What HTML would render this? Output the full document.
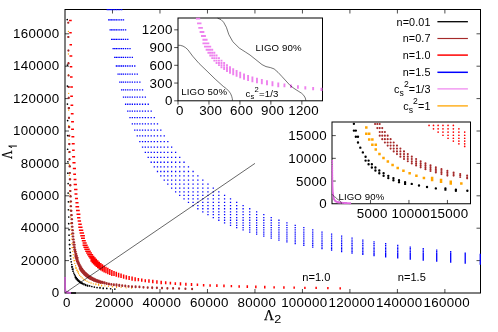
<!DOCTYPE html>
<html>
<head>
<meta charset="utf-8">
<title>Lambda1 vs Lambda2</title>
<style>
html,body{margin:0;padding:0;background:#ffffff;}
body{width:498px;height:332px;overflow:hidden;font-family:"Liberation Sans",sans-serif;}
svg{display:block;will-change:transform;transform:translateZ(0);}
</style>
</head>
<body>
<svg width="498" height="332" viewBox="0 0 498 332">
<rect x="0" y="0" width="498" height="332" fill="#ffffff"/>
<g id="main-axes" stroke="#000" fill="none">
<rect x="65" y="9.5" width="415.5" height="283.5" stroke-width="1"/>
<path d="M112.49 293v-4M112.49 9.5v4M65 260.6h4M480.5 260.6h-4M159.97 293v-4M159.97 9.5v4M65 228.2h4M480.5 228.2h-4M207.46 293v-4M207.46 9.5v4M65 195.8h4M480.5 195.8h-4M254.94 293v-4M254.94 9.5v4M65 163.4h4M480.5 163.4h-4M302.43 293v-4M302.43 9.5v4M65 131h4M480.5 131h-4M349.91 293v-4M349.91 9.5v4M65 98.6h4M480.5 98.6h-4M397.4 293v-4M397.4 9.5v4M65 66.2h4M480.5 66.2h-4M444.89 293v-4M444.89 9.5v4M65 33.8h4M480.5 33.8h-4" stroke-width="0.7"/>
</g>
<g id="main-data">
<path d="M107.31 9.66h0M108.7 19.93h0M108.7 9.66h0M110.14 29.84h0M110.14 19.93h0M110.14 9.66h0M111.63 39.38h0M111.63 29.84h0M111.63 19.93h0M111.63 9.66h0M113.16 48.57h0M113.16 39.38h0M113.16 29.84h0M113.16 19.93h0M113.16 9.66h0M114.75 57.43h0M114.75 48.57h0M114.75 39.38h0M114.75 29.84h0M114.75 19.93h0M114.75 9.66h0M116.39 65.98h0M116.39 57.43h0M116.39 48.57h0M116.39 39.38h0M116.39 29.84h0M116.39 19.93h0M116.39 9.66h0M118.08 74.21h0M118.08 65.98h0M118.08 57.43h0M118.08 48.57h0M118.08 39.38h0M118.08 29.84h0M118.08 19.93h0M118.08 9.66h0M119.83 82.14h0M119.83 74.21h0M119.83 65.98h0M119.83 57.43h0M119.83 48.57h0M119.83 39.38h0M119.83 29.84h0M119.83 19.93h0M119.83 9.66h0M121.63 89.78h0M121.63 82.14h0M121.63 74.21h0M121.63 65.98h0M121.63 57.43h0M121.63 48.57h0M121.63 39.38h0M121.63 29.84h0M121.63 19.93h0M121.63 9.66h0M123.5 97.15h0M123.5 89.78h0M123.5 82.14h0M123.5 74.21h0M123.5 65.98h0M123.5 57.43h0M123.5 48.57h0M123.5 39.38h0M123.5 29.84h0M123.5 19.93h0M125.6 104.25h0M125.6 97.15h0M125.6 89.78h0M125.6 82.14h0M125.6 74.21h0M125.6 65.98h0M125.6 57.43h0M125.6 48.57h0M125.6 39.38h0M125.6 29.84h0M127.77 111.1h0M127.77 104.25h0M127.77 97.15h0M127.77 89.78h0M127.77 82.14h0M127.77 74.21h0M127.77 65.98h0M127.77 57.43h0M127.77 48.57h0M127.77 39.38h0M130.02 117.65h0M130.02 111.1h0M130.02 104.25h0M130.02 97.15h0M130.02 89.78h0M130.02 82.14h0M130.02 74.21h0M130.02 65.98h0M130.02 57.43h0M130.02 48.57h0M132.35 123.96h0M132.35 117.65h0M132.35 111.1h0M132.35 104.25h0M132.35 97.15h0M132.35 89.78h0M132.35 82.14h0M132.35 74.21h0M132.35 65.98h0M132.35 57.43h0M134.77 130.05h0M134.77 123.96h0M134.77 117.65h0M134.77 111.1h0M134.77 104.25h0M134.77 97.15h0M134.77 89.78h0M134.77 82.14h0M134.77 74.21h0M134.77 65.98h0M137.27 135.92h0M137.27 130.05h0M137.27 123.96h0M137.27 117.65h0M137.27 111.1h0M137.27 104.25h0M137.27 97.15h0M137.27 89.78h0M137.27 82.14h0M137.27 74.21h0M139.86 141.58h0M139.86 135.92h0M139.86 130.05h0M139.86 123.96h0M139.86 117.65h0M139.86 111.1h0M139.86 104.25h0M139.86 97.15h0M139.86 89.78h0M139.86 82.14h0M142.55 147.03h0M142.55 141.58h0M142.55 135.92h0M142.55 130.05h0M142.55 123.96h0M142.55 117.65h0M142.55 111.1h0M142.55 104.25h0M142.55 97.15h0M142.55 89.78h0M145.33 152.29h0M145.33 147.03h0M145.33 141.58h0M145.33 135.92h0M145.33 130.05h0M145.33 123.96h0M145.33 117.65h0M145.33 111.1h0M145.33 104.25h0M145.33 97.15h0M148.21 157.36h0M148.21 152.29h0M148.21 147.03h0M148.21 141.58h0M148.21 135.92h0M148.21 130.05h0M148.21 123.96h0M148.21 117.65h0M148.21 111.1h0M148.21 104.25h0M151.19 162.24h0M151.19 157.36h0M151.19 152.29h0M151.19 147.03h0M151.19 141.58h0M151.19 135.92h0M151.19 130.05h0M151.19 123.96h0M151.19 117.65h0M151.19 111.1h0M154.29 166.94h0M154.29 162.24h0M154.29 157.36h0M154.29 152.29h0M154.29 147.03h0M154.29 141.58h0M154.29 135.92h0M154.29 130.05h0M154.29 123.96h0M154.29 117.65h0M157.49 171.48h0M157.49 166.94h0M157.49 162.24h0M157.49 157.36h0M157.49 152.29h0M157.49 147.03h0M157.49 141.58h0M157.49 135.92h0M157.49 130.05h0M157.49 123.96h0M160.8 175.85h0M160.8 171.48h0M160.8 166.94h0M160.8 162.24h0M160.8 157.36h0M160.8 152.29h0M160.8 147.03h0M160.8 141.58h0M160.8 135.92h0M160.8 130.05h0M164.24 180.06h0M164.24 175.85h0M164.24 171.48h0M164.24 166.94h0M164.24 162.24h0M164.24 157.36h0M164.24 152.29h0M164.24 147.03h0M164.24 141.58h0M164.24 135.92h0M167.8 184.13h0M167.8 180.06h0M167.8 175.85h0M167.8 171.48h0M167.8 166.94h0M167.8 162.24h0M167.8 157.36h0M167.8 152.29h0M167.8 147.03h0M167.8 141.58h0M171.64 188.04h0M171.64 184.13h0M171.64 180.06h0M171.64 175.85h0M171.64 171.48h0M171.64 166.94h0M171.64 162.24h0M171.64 157.36h0M171.64 152.29h0M171.64 147.03h0M175.62 191.82h0M175.62 188.04h0M175.62 184.13h0M175.62 180.06h0M175.62 175.85h0M175.62 171.48h0M175.62 166.94h0M175.62 162.24h0M175.62 157.36h0M175.62 152.29h0M179.74 195.46h0M179.74 191.82h0M179.74 188.04h0M179.74 184.13h0M179.74 180.06h0M179.74 175.85h0M179.74 171.48h0M179.74 166.94h0M179.74 162.24h0M179.74 157.36h0M184.03 198.97h0M184.03 195.46h0M184.03 191.82h0M184.03 188.04h0M184.03 184.13h0M184.03 180.06h0M184.03 175.85h0M184.03 171.48h0M184.03 166.94h0M184.03 162.24h0M188.47 202.35h0M188.47 198.97h0M188.47 195.46h0M188.47 191.82h0M188.47 188.04h0M188.47 184.13h0M188.47 180.06h0M188.47 175.85h0M188.47 171.48h0M188.47 166.94h0M193.08 205.61h0M193.08 202.35h0M193.08 198.97h0M193.08 195.46h0M193.08 191.82h0M193.08 188.04h0M193.08 184.13h0M193.08 180.06h0M193.08 175.85h0M193.08 171.48h0M197.85 208.76h0M197.85 205.61h0M197.85 202.35h0M197.85 198.97h0M197.85 195.46h0M197.85 191.82h0M197.85 188.04h0M197.85 184.13h0M197.85 180.06h0M197.85 175.85h0M202.81 211.79h0M202.81 208.76h0M202.81 205.61h0M202.81 202.35h0M202.81 198.97h0M202.81 195.46h0M202.81 191.82h0M202.81 188.04h0M202.81 184.13h0M202.81 180.06h0M207.96 214.71h0M207.96 211.79h0M207.96 208.76h0M207.96 205.61h0M207.96 202.35h0M207.96 198.97h0M207.96 195.46h0M207.96 191.82h0M207.96 188.04h0M207.96 184.13h0M213.29 217.53h0M213.29 214.71h0M213.29 211.79h0M213.29 208.76h0M213.29 205.61h0M213.29 202.35h0M213.29 198.97h0M213.29 195.46h0M213.29 191.82h0M213.29 188.04h0M218.83 220.24h0M218.83 217.53h0M218.83 214.71h0M218.83 211.79h0M218.83 208.76h0M218.83 205.61h0M218.83 202.35h0M218.83 198.97h0M218.83 195.46h0M218.83 191.82h0M224.57 222.86h0M224.57 220.24h0M224.57 217.53h0M224.57 214.71h0M224.57 211.79h0M224.57 208.76h0M224.57 205.61h0M224.57 202.35h0M224.57 198.97h0M224.57 195.46h0M230.52 225.29h0M230.52 222.86h0M230.52 220.24h0M230.52 217.53h0M230.52 214.71h0M230.52 211.79h0M230.52 208.76h0M230.52 205.61h0M230.52 202.35h0M230.52 198.97h0M236.7 227.63h0M236.7 225.29h0M236.7 222.86h0M236.7 220.24h0M236.7 217.53h0M236.7 214.71h0M236.7 211.79h0M236.7 208.76h0M236.7 205.61h0M236.7 202.35h0M243.11 229.89h0M243.11 227.63h0M243.11 225.29h0M243.11 222.86h0M243.11 220.24h0M243.11 217.53h0M243.11 214.71h0M243.11 211.79h0M243.11 208.76h0M243.11 205.61h0M249.75 232.08h0M249.75 229.89h0M249.75 227.63h0M249.75 225.29h0M249.75 222.86h0M249.75 220.24h0M249.75 217.53h0M249.75 214.71h0M249.75 211.79h0M249.75 208.76h0M256.65 234.19h0M256.65 232.08h0M256.65 229.89h0M256.65 227.63h0M256.65 225.29h0M256.65 222.86h0M256.65 220.24h0M256.65 217.53h0M256.65 214.71h0M256.65 211.79h0M263.8 236.22h0M263.8 234.19h0M263.8 232.08h0M263.8 229.89h0M263.8 227.63h0M263.8 225.29h0M263.8 222.86h0M263.8 220.24h0M263.8 217.53h0M263.8 214.71h0M271.23 238.19h0M271.23 236.22h0M271.23 234.19h0M271.23 232.08h0M271.23 229.89h0M271.23 227.63h0M271.23 225.29h0M271.23 222.86h0M271.23 220.24h0M271.23 217.53h0M278.93 240.09h0M278.93 238.19h0M278.93 236.22h0M278.93 234.19h0M278.93 232.08h0M278.93 229.89h0M278.93 227.63h0M278.93 225.29h0M278.93 222.86h0M278.93 220.24h0M286.92 241.92h0M286.92 240.09h0M286.92 238.19h0M286.92 236.22h0M286.92 234.19h0M286.92 232.08h0M286.92 229.89h0M286.92 227.63h0M286.92 225.29h0M286.92 222.86h0M295.22 243.69h0M295.22 241.92h0M295.22 240.09h0M295.22 238.19h0M295.22 236.22h0M295.22 234.19h0M295.22 232.08h0M295.22 229.89h0M295.22 227.63h0M295.22 225.29h0M303.82 245.4h0M303.82 243.69h0M303.82 241.92h0M303.82 240.09h0M303.82 238.19h0M303.82 236.22h0M303.82 234.19h0M303.82 232.08h0M303.82 229.89h0M303.82 227.63h0M312.74 247.04h0M312.74 245.4h0M312.74 243.69h0M312.74 241.92h0M312.74 240.09h0M312.74 238.19h0M312.74 236.22h0M312.74 234.19h0M312.74 232.08h0M312.74 229.89h0M322 248.63h0M322 247.04h0M322 245.4h0M322 243.69h0M322 241.92h0M322 240.09h0M322 238.19h0M322 236.22h0M322 234.19h0M322 232.08h0M331.6 250.17h0M331.6 248.63h0M331.6 247.04h0M331.6 245.4h0M331.6 243.69h0M331.6 241.92h0M331.6 240.09h0M331.6 238.19h0M331.6 236.22h0M331.6 234.19h0M341.63 251.65h0M341.63 250.17h0M341.63 248.63h0M341.63 247.04h0M341.63 245.4h0M341.63 243.69h0M341.63 241.92h0M341.63 240.09h0M341.63 238.19h0M341.63 236.22h0M352.04 253.08h0M352.04 251.65h0M352.04 250.17h0M352.04 248.63h0M352.04 247.04h0M352.04 245.4h0M352.04 243.69h0M352.04 241.92h0M352.04 240.09h0M352.04 238.19h0M362.83 254.36h0M362.83 253.08h0M362.83 251.65h0M362.83 250.17h0M362.83 248.63h0M362.83 247.04h0M362.83 245.4h0M362.83 243.69h0M362.83 241.92h0M362.83 240.09h0M374.04 255.59h0M374.04 254.36h0M374.04 253.08h0M374.04 251.65h0M374.04 250.17h0M374.04 248.63h0M374.04 247.04h0M374.04 245.4h0M374.04 243.69h0M374.04 241.92h0M385.67 256.78h0M385.67 255.59h0M385.67 254.36h0M385.67 253.08h0M385.67 251.65h0M385.67 250.17h0M385.67 248.63h0M385.67 247.04h0M385.67 245.4h0M385.67 243.69h0M397.73 257.94h0M397.73 256.78h0M397.73 255.59h0M397.73 254.36h0M397.73 253.08h0M397.73 251.65h0M397.73 250.17h0M397.73 248.63h0M397.73 247.04h0M397.73 245.4h0M410.25 259.06h0M410.25 257.94h0M410.25 256.78h0M410.25 255.59h0M410.25 254.36h0M410.25 253.08h0M410.25 251.65h0M410.25 250.17h0M410.25 248.63h0M410.25 247.04h0M423.24 260.14h0M423.24 259.06h0M423.24 257.94h0M423.24 256.78h0M423.24 255.59h0M423.24 254.36h0M423.24 253.08h0M423.24 251.65h0M423.24 250.17h0M423.24 248.63h0M436.71 261.19h0M436.71 260.14h0M436.71 259.06h0M436.71 257.94h0M436.71 256.78h0M436.71 255.59h0M436.71 254.36h0M436.71 253.08h0M436.71 251.65h0M436.71 250.17h0M450.7 262.2h0M450.7 261.19h0M450.7 260.14h0M450.7 259.06h0M450.7 257.94h0M450.7 256.78h0M450.7 255.59h0M450.7 254.36h0M450.7 253.08h0M450.7 251.65h0M465.21 263.18h0M465.21 262.2h0M465.21 261.19h0M465.21 260.14h0M465.21 259.06h0M465.21 257.94h0M465.21 256.78h0M465.21 255.59h0M465.21 254.36h0M465.21 253.08h0M480.26 264.13h0M480.26 263.18h0M480.26 262.2h0M480.26 261.19h0M480.26 260.14h0M480.26 259.06h0M480.26 257.94h0M480.26 256.78h0M480.26 255.59h0M480.26 254.36h0" stroke="#0000ff" stroke-width="1.3" stroke-linecap="square" fill="none"/>
<path d="M69.79 20.4h0M70.01 32.81h0M70.01 20.4h0M70.24 55.96h0M70.24 44.66h0M70.24 32.81h0M70.24 20.4h0M70.48 66.76h0M70.48 55.96h0M70.48 44.66h0M70.48 32.81h0M70.48 20.4h0M70.73 77.06h0M70.73 66.76h0M70.73 55.96h0M70.73 44.66h0M70.73 32.81h0M70.73 20.4h0M70.99 96.27h0M70.99 86.89h0M70.99 77.06h0M70.99 66.76h0M70.99 55.96h0M70.99 44.66h0M70.99 32.81h0M70.99 20.4h0M71.27 105.23h0M71.27 96.27h0M71.27 86.89h0M71.27 77.06h0M71.27 66.76h0M71.27 55.96h0M71.27 44.66h0M71.55 113.63h0M71.55 105.23h0M71.55 96.27h0M71.55 86.89h0M71.55 77.06h0M71.55 66.76h0M71.55 55.96h0M71.85 129.32h0M71.85 121.65h0M71.85 113.63h0M71.85 105.23h0M71.85 96.27h0M71.85 86.89h0M71.85 77.06h0M72.17 136.64h0M72.17 129.32h0M72.17 121.65h0M72.17 113.63h0M72.17 105.23h0M72.17 96.27h0M72.17 86.89h0M72.49 143.63h0M72.49 136.64h0M72.49 129.32h0M72.49 121.65h0M72.49 113.63h0M72.49 105.23h0M72.84 156.7h0M72.84 150.31h0M72.84 143.63h0M72.84 136.64h0M72.84 129.32h0M72.84 121.65h0M72.84 113.63h0M73.19 162.79h0M73.19 156.7h0M73.19 150.31h0M73.19 143.63h0M73.19 136.64h0M73.19 129.32h0M73.19 121.65h0M73.57 168.62h0M73.57 162.79h0M73.57 156.7h0M73.57 150.31h0M73.57 143.63h0M73.57 136.64h0M73.96 174.17h0M73.96 168.62h0M73.96 162.79h0M73.96 156.7h0M73.96 150.31h0M73.96 143.63h0M74.37 184.54h0M74.37 179.47h0M74.37 174.17h0M74.37 168.62h0M74.37 162.79h0M74.37 156.7h0M74.8 189.38h0M74.8 184.54h0M74.8 179.47h0M74.8 174.17h0M74.8 168.62h0M74.8 162.79h0M75.24 194.01h0M75.24 189.38h0M75.24 184.54h0M75.24 179.47h0M75.24 174.17h0M75.24 168.62h0M75.71 198.42h0M75.71 194.01h0M75.71 189.38h0M75.71 184.54h0M75.71 179.47h0M76.2 206.68h0M76.2 202.65h0M76.2 198.42h0M76.2 194.01h0M76.2 189.38h0M76.2 184.54h0M76.71 210.53h0M76.71 206.68h0M76.71 202.65h0M76.71 198.42h0M76.71 194.01h0M76.71 189.38h0M77.25 214.21h0M77.25 210.53h0M77.25 206.68h0M77.25 202.65h0M77.25 198.42h0M77.81 217.73h0M77.81 214.21h0M77.81 210.53h0M77.81 206.68h0M77.81 202.65h0M78.4 221.09h0M78.4 217.73h0M78.4 214.21h0M78.4 210.53h0M78.4 206.68h0M79.01 227.37h0M79.01 224.3h0M79.01 221.09h0M79.01 217.73h0M79.01 214.21h0M79.01 210.53h0M79.65 230.3h0M79.65 227.37h0M79.65 224.3h0M79.65 221.09h0M79.65 217.73h0M79.65 214.21h0M80.32 233.09h0M80.32 230.3h0M80.32 227.37h0M80.32 224.3h0M80.32 221.09h0M81.02 235.72h0M81.02 233.09h0M81.02 230.3h0M81.02 227.37h0M81.02 224.3h0M81.75 238.24h0M81.75 235.72h0M81.75 233.09h0M81.75 230.3h0M81.75 227.37h0M82.52 240.64h0M82.52 238.24h0M82.52 235.72h0M82.52 233.09h0M82.52 230.3h0M83.32 245.13h0M83.32 242.94h0M83.32 240.64h0M83.32 238.24h0M83.32 235.72h0M83.32 233.09h0M84.15 247.23h0M84.15 245.13h0M84.15 242.94h0M84.15 240.64h0M84.15 238.24h0M84.15 235.72h0M85.03 249.24h0M85.03 247.23h0M85.03 245.13h0M85.03 242.94h0M85.03 240.64h0M85.94 251.16h0M85.94 249.24h0M85.94 247.23h0M85.94 245.13h0M85.94 242.94h0M86.9 253h0M86.9 251.16h0M86.9 249.24h0M86.9 247.23h0M86.9 245.13h0M87.9 254.75h0M87.9 253h0M87.9 251.16h0M87.9 249.24h0M87.9 247.23h0M88.95 256.43h0M88.95 254.75h0M88.95 253h0M88.95 251.16h0M88.95 249.24h0M90.04 258.03h0M90.04 256.43h0M90.04 254.75h0M90.04 253h0M90.04 251.16h0M91.19 261.04h0M91.19 259.57h0M91.19 258.03h0M91.19 256.43h0M91.19 254.75h0M91.19 253h0M92.39 262.44h0M92.39 261.04h0M92.39 259.57h0M92.39 258.03h0M92.39 256.43h0M92.39 254.75h0M93.64 263.78h0M93.64 262.44h0M93.64 261.04h0M93.64 259.57h0M93.64 258.03h0M93.64 256.43h0M94.95 265.06h0M94.95 263.78h0M94.95 262.44h0M94.95 261.04h0M94.95 259.57h0M94.95 258.03h0M96.32 266.28h0M96.32 265.06h0M96.32 263.78h0M96.32 262.44h0M96.32 261.04h0M96.32 259.57h0M97.75 267.45h0M97.75 266.28h0M97.75 265.06h0M97.75 263.78h0M97.75 262.44h0M97.75 261.04h0M99.24 268.57h0M99.24 267.45h0M99.24 266.28h0M99.24 265.06h0M99.24 263.78h0M99.24 262.44h0M100.81 269.64h0M100.81 268.57h0M100.81 267.45h0M100.81 266.28h0M100.81 265.06h0M100.81 263.78h0M102.45 270.66h0M102.45 269.64h0M102.45 268.57h0M102.45 267.45h0M102.45 266.28h0M102.45 265.06h0M104.16 271.63h0M104.16 270.66h0M104.16 269.64h0M104.16 268.57h0M104.16 267.45h0M104.16 266.28h0M105.95 272.57h0M105.95 271.63h0M105.95 270.66h0M105.95 269.64h0M105.95 268.57h0M105.95 267.45h0M107.83 273.46h0M107.83 272.57h0M107.83 271.63h0M107.83 270.66h0M107.83 269.64h0M107.83 268.57h0M109.79 274.31h0M109.79 273.46h0M109.79 272.57h0M109.79 271.63h0M109.79 270.66h0M109.79 269.64h0M111.85 275.13h0M111.85 274.31h0M111.85 273.46h0M111.85 272.57h0M111.85 271.63h0M111.85 270.66h0M114 275.13h0M114 274.31h0M114 273.46h0M114 272.57h0M114 271.63h0M116.25 275.91h0M116.25 275.13h0M116.25 274.31h0M116.25 273.46h0M116.25 272.57h0M118.6 276.66h0M118.6 275.91h0M118.6 275.13h0M118.6 274.31h0M118.6 273.46h0M121.06 277.37h0M121.06 276.66h0M121.06 275.91h0M121.06 275.13h0M121.06 274.31h0M123.63 278.06h0M123.63 277.37h0M123.63 276.66h0M123.63 275.91h0M123.63 275.13h0M126.32 278.71h0M126.32 278.06h0M126.32 277.37h0M126.32 276.66h0M126.32 275.91h0M129.13 279.33h0M129.13 278.71h0M129.13 278.06h0M129.13 277.37h0M129.13 276.66h0M132.08 279.93h0M132.08 279.33h0M132.08 278.71h0M132.08 278.06h0M132.08 277.37h0M135.15 280.5h0M135.15 279.93h0M135.15 279.33h0M135.15 278.71h0M135.15 278.06h0M138.37 280.5h0M138.37 279.93h0M138.37 279.33h0M138.37 278.71h0M141.74 281.05h0M141.74 280.5h0M141.74 279.93h0M141.74 279.33h0M145.26 281.57h0M145.26 281.05h0M145.26 280.5h0M145.26 279.93h0M148.95 282.07h0M148.95 281.57h0M148.95 281.05h0M148.95 280.5h0M148.95 279.93h0M152.8 282.55h0M152.8 282.07h0M152.8 281.57h0M152.8 281.05h0M152.8 280.5h0M156.9 283.01h0M156.9 282.55h0M156.9 282.07h0M156.9 281.57h0M156.9 281.05h0M161.19 283.44h0M161.19 283.01h0M161.19 282.55h0M161.19 282.07h0M161.19 281.57h0M165.69 283.44h0M165.69 283.01h0M165.69 282.55h0M165.69 282.07h0M170.39 283.86h0M170.39 283.44h0M170.39 283.01h0M170.39 282.55h0M175.32 284.26h0M175.32 283.86h0M175.32 283.44h0M175.32 283.01h0M180.47 284.64h0M180.47 284.26h0M180.47 283.86h0M180.47 283.44h0M180.47 283.01h0M185.87 285.01h0M185.87 284.64h0M185.87 284.26h0M185.87 283.86h0M185.87 283.44h0M191.51 285.36h0M191.51 285.01h0M191.51 284.64h0M191.51 284.26h0M191.51 283.86h0M197.42 285.36h0M197.42 285.01h0M197.42 284.64h0M197.42 284.26h0M203.61 285.69h0M203.61 285.36h0M203.61 285.01h0M203.61 284.64h0M210.09 286.01h0M210.09 285.69h0M210.09 285.36h0M210.09 285.01h0M216.87 286.32h0M216.87 286.01h0M216.87 285.69h0M216.87 285.36h0M216.87 285.01h0M223.96 286.61h0M223.96 286.32h0M223.96 286.01h0M223.96 285.69h0M223.96 285.36h0M231.39 286.61h0M231.39 286.32h0M231.39 286.01h0M231.39 285.69h0M239.16 286.89h0M239.16 286.61h0M239.16 286.32h0M239.16 286.01h0M247.3 287.15h0M247.3 286.89h0M247.3 286.61h0M247.3 286.32h0M247.3 286.01h0M255.83 287.41h0M255.83 287.15h0M255.83 286.89h0M255.83 286.61h0M255.83 286.32h0M264.77 287.65h0M264.77 287.41h0M264.77 287.15h0M264.77 286.89h0M264.77 286.61h0M274.12 287.65h0M274.12 287.41h0M274.12 287.15h0M274.12 286.89h0M283.92 287.89h0M283.92 287.65h0M283.92 287.41h0M283.92 287.15h0M283.92 286.89h0M294.17 288.11h0M294.17 287.89h0M294.17 287.65h0M294.17 287.41h0M294.17 287.15h0M304.9 288.32h0M304.9 288.11h0M304.9 287.89h0M304.9 287.65h0M304.9 287.41h0M316.13 288.32h0M316.13 288.11h0M316.13 287.89h0M316.13 287.65h0M316.13 287.41h0M327.89 288.53h0M327.89 288.32h0M327.89 288.11h0M327.89 287.89h0M327.89 287.65h0M340.2 288.72h0M340.2 288.53h0M340.2 288.32h0M340.2 288.11h0M340.2 287.89h0" stroke="#ff0000" stroke-width="1.5" stroke-linecap="square" fill="none"/>
<path d="M68.39 74.59h0M68.39 54.02h0M68.39 31.5h0M68.68 125.58h0M68.68 110.2h0M68.68 93.4h0M68.99 152.58h0M68.99 139.67h0M68.99 125.58h0M69.33 175.22h0M69.33 164.4h0M69.7 194.21h0M69.7 185.13h0M70.09 210.14h0M70.09 202.53h0M70.53 223.5h0M70.53 217.11h0M70.53 210.14h0M70.99 234.3h0M70.99 229.13h0M70.99 223.5h0M71.5 239.1h0M71.5 234.3h0M72.05 247.56h0M72.05 243.51h0M72.65 251.28h0M72.65 247.56h0M73.3 257.83h0M73.3 254.69h0M74 260.7h0M74 257.83h0M74.76 263.35h0M74.76 260.7h0M75.58 268h0M75.58 265.77h0M76.48 270.04h0M76.48 268h0M77.45 271.92h0M77.45 270.04h0M78.51 273.65h0M78.51 271.92h0M79.65 275.23h0M80.89 276.65h0M82.23 277.96h0M83.69 279.17h0M85.27 280.25h0M87.04 281.24h0M88.96 282.16h0M91.04 283h0M93.36 283.78h0M95.89 284.5h0M95.89 283.78h0M98.64 285.17h0M98.64 284.5h0M101.64 285.78h0M101.64 285.17h0M104.91 285.78h0M108.46 286.34h0M112.33 286.86h0M112.33 286.34h0M116.55 287.34h0M116.55 286.86h0M121.15 287.34h0M126.15 287.78h0M131.6 288.19h0M131.6 287.78h0" stroke="#ffa500" stroke-width="1.3" stroke-linecap="round" fill="none"/>
<path d="M68.15 37.07h0M68.15 22.8h0M68.32 63.4h0M68.32 50.59h0M68.32 37.07h0M68.32 22.8h0M68.49 87.02h0M68.49 75.53h0M68.49 63.4h0M68.49 50.59h0M68.49 37.07h0M68.67 108.17h0M68.67 97.9h0M68.67 87.02h0M68.67 75.53h0M68.67 63.4h0M68.87 127.1h0M68.87 117.89h0M68.87 108.17h0M68.87 97.9h0M68.87 87.02h0M69.07 144.1h0M69.07 135.83h0M69.07 127.1h0M69.07 117.89h0M69.07 108.17h0M69.29 159.36h0M69.29 151.94h0M69.29 144.1h0M69.29 135.83h0M69.29 127.1h0M69.51 166.39h0M69.51 159.36h0M69.51 151.94h0M69.51 144.1h0M69.75 179.36h0M69.75 173.05h0M69.75 166.39h0M69.75 159.36h0M69.75 151.94h0M70 191.01h0M70 185.34h0M70 179.36h0M70 173.05h0M70 166.39h0M70.27 196.38h0M70.27 191.01h0M70.27 185.34h0M70.27 179.36h0M70.54 206.28h0M70.54 201.46h0M70.54 196.38h0M70.54 191.01h0M70.54 185.34h0M70.84 210.84h0M70.84 206.28h0M70.84 201.46h0M70.84 196.38h0M71.14 215.16h0M71.14 210.84h0M71.14 206.28h0M71.14 201.46h0M71.47 223.14h0M71.47 219.26h0M71.47 215.16h0M71.47 210.84h0M71.81 226.81h0M71.81 223.14h0M71.81 219.26h0M71.81 215.16h0M72.17 233.51h0M72.17 230.3h0M72.17 226.81h0M72.17 223.14h0M72.17 219.26h0M72.55 236.57h0M72.55 233.51h0M72.55 230.3h0M72.55 226.81h0M72.95 239.46h0M72.95 236.57h0M72.95 233.51h0M72.95 230.3h0M73.36 244.82h0M73.36 242.21h0M73.36 239.46h0M73.36 236.57h0M73.36 233.51h0M73.81 247.29h0M73.81 244.82h0M73.81 242.21h0M73.81 239.46h0M74.27 249.64h0M74.27 247.29h0M74.27 244.82h0M74.27 242.21h0M74.76 251.86h0M74.76 249.64h0M74.76 247.29h0M74.76 244.82h0M75.27 255.98h0M75.27 253.97h0M75.27 251.86h0M75.27 249.64h0M75.82 257.88h0M75.82 255.98h0M75.82 253.97h0M75.82 251.86h0M76.39 259.68h0M76.39 257.88h0M76.39 255.98h0M76.39 253.97h0M76.99 261.39h0M76.99 259.68h0M76.99 257.88h0M76.99 255.98h0M77.62 263.01h0M77.62 261.39h0M77.62 259.68h0M77.62 257.88h0M78.29 264.55h0M78.29 263.01h0M78.29 261.39h0M78.99 266.01h0M78.99 264.55h0M78.99 263.01h0M79.73 268.71h0M79.73 267.39h0M79.73 266.01h0M79.73 264.55h0M80.5 269.95h0M80.5 268.71h0M80.5 267.39h0M80.5 266.01h0M81.32 271.14h0M81.32 269.95h0M81.32 268.71h0M81.32 267.39h0M82.18 272.26h0M82.18 271.14h0M82.18 269.95h0M82.18 268.71h0M83.09 273.32h0M83.09 272.26h0M83.09 271.14h0M83.09 269.95h0M84.04 274.33h0M84.04 273.32h0M84.04 272.26h0M84.04 271.14h0M85.05 275.29h0M85.05 274.33h0M85.05 273.32h0M85.05 272.26h0M86.1 276.2h0M86.1 275.29h0M86.1 274.33h0M86.1 273.32h0M87.22 277.04h0M87.22 276.2h0M87.22 275.29h0M87.22 274.33h0M88.39 277.84h0M88.39 277.04h0M88.39 276.2h0M88.39 275.29h0M89.62 278.6h0M89.62 277.84h0M89.62 277.04h0M89.62 276.2h0M90.96 279.32h0M90.96 278.6h0M90.96 277.84h0M90.96 277.04h0M92.36 280.01h0M92.36 279.32h0M92.36 278.6h0M92.36 277.84h0M93.84 280.66h0M93.84 280.01h0M93.84 279.32h0M93.84 278.6h0M95.4 281.28h0M95.4 280.66h0M95.4 280.01h0M95.4 279.32h0M97.04 281.86h0M97.04 281.28h0M97.04 280.66h0M97.04 280.01h0M98.78 282.42h0M98.78 281.86h0M98.78 281.28h0M98.78 280.66h0M100.6 282.95h0M100.6 282.42h0M100.6 281.86h0M100.6 281.28h0M102.53 282.95h0M102.53 282.42h0M102.53 281.86h0M104.56 283.46h0M104.56 282.95h0M104.56 282.42h0M106.7 283.93h0M106.7 283.46h0M106.7 282.95h0M108.95 284.39h0M108.95 283.93h0M108.95 283.46h0M111.33 284.82h0M111.33 284.39h0M111.33 283.93h0M113.84 285.23h0M113.84 284.82h0M113.84 284.39h0M116.48 285.62h0M116.48 285.23h0M116.48 284.82h0M116.48 284.39h0M119.26 285.99h0M119.26 285.62h0M119.26 285.23h0M119.26 284.82h0M122.2 285.99h0M122.2 285.62h0M122.2 285.23h0M125.29 286.34h0M125.29 285.99h0M125.29 285.62h0M128.55 286.67h0M128.55 286.34h0M128.55 285.99h0M131.99 286.99h0M131.99 286.67h0M131.99 286.34h0M135.61 287.29h0M135.61 286.99h0M135.61 286.67h0M135.61 286.34h0M139.43 287.29h0M139.43 286.99h0M139.43 286.67h0M143.46 287.58h0M143.46 287.29h0M143.46 286.99h0M147.71 287.85h0M147.71 287.58h0M147.71 287.29h0M152.18 288.11h0M152.18 287.85h0M152.18 287.58h0M152.18 287.29h0M156.9 288.11h0M156.9 287.85h0M156.9 287.58h0M162 288.35h0M162 288.11h0M162 287.85h0M167.39 288.59h0M167.39 288.35h0M167.39 288.11h0M173.08 288.59h0M173.08 288.35h0M173.08 288.11h0M179.08 288.81h0M179.08 288.59h0M179.08 288.35h0M185.42 289.02h0M185.42 288.81h0M185.42 288.59h0M192.1 289.22h0M192.1 289.02h0M192.1 288.81h0" stroke="#a52a2a" stroke-width="2.1" stroke-linecap="round" fill="none"/>
<path d="M67.22 19.6h0M67.42 104.1h0M67.42 86.1h0M67.42 65.06h0M67.64 149.24h0M67.64 135.54h0M67.64 120.54h0M67.87 173.17h0M67.87 161.75h0M68.13 193.11h0M68.13 183.59h0M68.41 209.75h0M68.41 201.8h0M68.71 223.63h0M68.71 217.01h0M69.04 235.2h0M69.04 229.68h0M69.41 244.57h0M69.41 240.09h0M69.8 248.66h0M69.8 244.57h0M70.23 255.85h0M70.23 252.41h0M70.69 258.99h0M70.69 255.85h0M71.2 261.87h0M71.76 266.91h0M71.76 264.5h0M72.36 269.12h0M72.36 266.91h0M73.02 271.14h0M73.02 269.12h0M73.73 272.99h0M74.51 274.68h0M75.36 277.61h0M75.36 276.21h0M76.29 278.89h0M76.29 277.61h0M77.3 280.07h0M77.3 278.89h0M78.4 281.15h0M78.4 280.07h0M79.59 282.14h0M79.59 281.15h0M80.92 283.04h0M80.92 282.14h0M82.37 283.86h0M82.37 283.04h0M83.95 284.61h0M83.95 283.86h0M85.67 285.3h0M85.67 284.61h0M87.56 285.93h0M87.56 285.3h0M89.61 285.93h0M91.85 286.51h0M94.33 287.04h0M97.04 287.53h0M100 287.98h0M100 287.53h0M103.23 288.39h0M103.23 287.98h0M106.77 288.39h0M110.63 288.77h0M114.84 289.11h0" stroke="#000000" stroke-width="1.7" stroke-linecap="round" fill="none"/>
<path d="M65.06 277.79h0M65.07 278.67h0M65.07 277.79h0M65.07 279.5h0M65.07 278.67h0M65.07 277.79h0M65.08 280.28h0M65.08 279.5h0M65.08 278.67h0M65.08 277.79h0M65.08 281.02h0M65.08 280.28h0M65.08 279.5h0M65.08 278.67h0M65.08 277.79h0M65.09 281.71h0M65.09 281.02h0M65.09 280.28h0M65.09 279.5h0M65.09 278.67h0M65.09 277.79h0M65.09 282.37h0M65.09 281.71h0M65.09 281.02h0M65.09 280.28h0M65.09 279.5h0M65.09 278.67h0M65.1 282.98h0M65.1 282.37h0M65.1 281.71h0M65.1 281.02h0M65.1 280.28h0M65.1 279.5h0M65.1 283.56h0M65.1 282.98h0M65.1 282.37h0M65.1 281.71h0M65.1 281.02h0M65.1 280.28h0M65.11 284.11h0M65.11 283.56h0M65.11 282.98h0M65.11 282.37h0M65.11 281.71h0M65.11 281.02h0M65.12 284.63h0M65.12 284.11h0M65.12 283.56h0M65.12 282.98h0M65.12 282.37h0M65.12 285.11h0M65.12 284.63h0M65.12 284.11h0M65.12 283.56h0M65.12 282.98h0M65.13 285.57h0M65.13 285.11h0M65.13 284.63h0M65.13 284.11h0M65.13 283.56h0M65.14 286h0M65.14 285.57h0M65.14 285.11h0M65.14 284.63h0M65.14 284.11h0M65.15 286.4h0M65.15 286h0M65.15 285.57h0M65.15 285.11h0M65.15 284.63h0M65.16 286.79h0M65.16 286.4h0M65.16 286h0M65.16 285.57h0M65.16 285.11h0M65.17 287.15h0M65.17 286.79h0M65.17 286.4h0M65.17 286h0M65.17 285.57h0M65.18 287.49h0M65.18 287.15h0M65.18 286.79h0M65.18 286.4h0M65.18 286h0M65.19 287.81h0M65.19 287.49h0M65.19 287.15h0M65.19 286.79h0M65.2 288.11h0M65.2 287.81h0M65.2 287.49h0M65.2 287.15h0M65.21 288.39h0M65.21 288.11h0M65.21 287.81h0M65.21 287.49h0M65.22 288.66h0M65.22 288.39h0M65.22 288.11h0M65.22 287.81h0M65.24 288.91h0M65.24 288.66h0M65.24 288.39h0M65.24 288.11h0M65.25 289.15h0M65.25 288.91h0M65.25 288.66h0M65.25 288.39h0M65.27 289.37h0M65.27 289.15h0M65.27 288.91h0M65.27 288.66h0M65.29 289.58h0M65.29 289.37h0M65.29 289.15h0M65.29 288.91h0M65.3 289.78h0M65.3 289.58h0M65.3 289.37h0M65.3 289.15h0M65.32 289.96h0M65.32 289.78h0M65.32 289.58h0M65.32 289.37h0M65.34 290.14h0M65.34 289.96h0M65.34 289.78h0M65.34 289.58h0M65.36 290.31h0M65.36 290.14h0M65.36 289.96h0M65.36 289.78h0M65.38 290.46h0M65.38 290.31h0M65.38 290.14h0M65.38 289.96h0M65.41 290.61h0M65.41 290.46h0M65.41 290.31h0M65.43 290.75h0M65.43 290.61h0M65.43 290.46h0M65.46 290.88h0M65.46 290.75h0M65.46 290.61h0M65.49 291h0M65.49 290.88h0M65.49 290.75h0M65.52 291.12h0M65.52 291h0M65.52 290.88h0M65.55 291.23h0M65.55 291.12h0M65.55 291h0M65.58 291.43h0M65.58 291.33h0M65.58 291.23h0M65.58 291.12h0M65.62 291.52h0M65.62 291.43h0M65.62 291.33h0M65.62 291.23h0M65.66 291.6h0M65.66 291.52h0M65.66 291.43h0M65.66 291.33h0M65.7 291.68h0M65.7 291.6h0M65.7 291.52h0M65.7 291.43h0M65.74 291.76h0M65.74 291.68h0M65.74 291.6h0M65.74 291.52h0M65.79 291.83h0M65.79 291.76h0M65.79 291.68h0M65.79 291.6h0M65.84 291.9h0M65.84 291.83h0M65.84 291.76h0M65.84 291.68h0M65.89 291.96h0M65.89 291.9h0M65.89 291.83h0M65.89 291.76h0M65.94 292.02h0M65.94 291.96h0M65.94 291.9h0M65.94 291.83h0M66 292.08h0M66 292.02h0M66 291.96h0M66 291.9h0M66.06 292.13h0M66.06 292.08h0M66.06 292.02h0M66.06 291.96h0M66.13 292.18h0M66.13 292.13h0M66.13 292.08h0M66.13 292.02h0M66.2 292.23h0M66.2 292.18h0M66.2 292.13h0M66.2 292.08h0M66.27 292.28h0M66.27 292.23h0M66.27 292.18h0M66.27 292.13h0M66.35 292.32h0M66.35 292.28h0M66.35 292.23h0M66.35 292.18h0M66.43 292.36h0M66.43 292.32h0M66.43 292.28h0M66.43 292.23h0M66.52 292.39h0M66.52 292.36h0M66.52 292.32h0M66.52 292.28h0M66.61 292.43h0M66.61 292.39h0M66.61 292.36h0M66.61 292.32h0M66.71 292.46h0M66.71 292.43h0M66.71 292.39h0M66.71 292.36h0M66.82 292.49h0M66.82 292.46h0M66.82 292.43h0M66.82 292.39h0M66.93 292.52h0M66.93 292.49h0M66.93 292.46h0M66.93 292.43h0M67.05 292.55h0M67.05 292.52h0M67.05 292.49h0M67.05 292.46h0M67.17 292.58h0M67.17 292.55h0M67.17 292.52h0M67.17 292.49h0M67.31 292.6h0M67.31 292.58h0M67.31 292.55h0M67.31 292.52h0M67.45 292.6h0M67.45 292.58h0M67.45 292.55h0M67.6 292.62h0M67.6 292.6h0M67.6 292.58h0M67.76 292.65h0M67.76 292.62h0M67.76 292.6h0M67.93 292.67h0M67.93 292.65h0M67.93 292.62h0M68.11 292.69h0M68.11 292.67h0M68.11 292.65h0M68.3 292.7h0M68.3 292.69h0M68.3 292.67h0M68.5 292.72h0M68.5 292.7h0M68.5 292.69h0M68.72 292.74h0M68.72 292.72h0M68.72 292.7h0M68.95 292.75h0M68.95 292.74h0M68.95 292.72h0M69.19 292.77h0M69.19 292.75h0M69.19 292.74h0M69.45 292.78h0M69.45 292.77h0M69.45 292.75h0M69.45 292.74h0M69.72 292.79h0M69.72 292.78h0M69.72 292.77h0M69.72 292.75h0M70.01 292.81h0M70.01 292.79h0M70.01 292.78h0M70.01 292.77h0M70.32 292.82h0M70.32 292.81h0M70.32 292.79h0M70.32 292.78h0M70.65 292.83h0M70.65 292.82h0M70.65 292.81h0M70.65 292.79h0" stroke="#c455c8" stroke-width="1.7" stroke-linecap="round" fill="none"/>
<line x1="71" x2="76" y1="293" y2="293" stroke="#000" stroke-width="1.5"/>
<line x1="65" y1="293" x2="254.94" y2="163.4" stroke="#000" stroke-width="0.6"/>
</g>
<g id="main-ticklabels" font-family="Liberation Sans, sans-serif" font-size="13.33" letter-spacing="0.32" fill="#000">
<text x="59.5" y="297.1" text-anchor="end">0</text>
<text x="59.5" y="264.7" text-anchor="end">20000</text>
<text x="59.5" y="232.3" text-anchor="end">40000</text>
<text x="59.5" y="199.9" text-anchor="end">60000</text>
<text x="59.5" y="167.5" text-anchor="end">80000</text>
<text x="59.5" y="135.1" text-anchor="end">100000</text>
<text x="59.5" y="102.7" text-anchor="end">120000</text>
<text x="59.5" y="70.3" text-anchor="end">140000</text>
<text x="59.5" y="37.9" text-anchor="end">160000</text>
<text x="66.9" y="307.2" text-anchor="middle">0</text>
<text x="114.39" y="307.2" text-anchor="middle">20000</text>
<text x="161.87" y="307.2" text-anchor="middle">40000</text>
<text x="209.36" y="307.2" text-anchor="middle">60000</text>
<text x="256.84" y="307.2" text-anchor="middle">80000</text>
<text x="304.33" y="307.2" text-anchor="middle">100000</text>
<text x="351.81" y="307.2" text-anchor="middle">120000</text>
<text x="399.3" y="307.2" text-anchor="middle">140000</text>
<text x="446.79" y="307.2" text-anchor="middle">160000</text>
</g>
<g id="axis-labels" fill="#000">
<text x="264.0" y="319.7" font-family="Liberation Serif, serif" font-size="13.8" stroke="#000" stroke-width="0.25">&#923;</text>
<text x="274.3" y="323.4" font-family="Liberation Sans, sans-serif" font-size="10.9" textLength="7" lengthAdjust="spacingAndGlyphs">2</text>
<text transform="translate(12.3,159.0) rotate(-90)" font-family="Liberation Serif, serif" font-size="15" textLength="8.6" lengthAdjust="spacingAndGlyphs" stroke="#000" stroke-width="0.25">&#923;</text>
<path d="M16.9 146.05H8.5M8.9 146.3L11.9 147.6" stroke="#000" stroke-width="1.0" fill="none"/>
</g>
<g id="annot" font-family="Liberation Sans, sans-serif" font-size="11.1" fill="#000">
<text x="302.3" y="281">n=1.0</text>
<text x="397.8" y="281">n=1.5</text>
</g>
<g id="legend" font-family="Liberation Sans, sans-serif" font-size="10.8" letter-spacing="0.1" fill="#000">
<text x="430.5" y="25.6" text-anchor="end">n=0.01</text>
<line x1="437.4" x2="467.9" y1="21.7" y2="21.7" stroke="#000000" stroke-width="1.3"/>
<text x="430.5" y="42.4" text-anchor="end">n=0.7</text>
<line x1="437.4" x2="467.9" y1="38.5" y2="38.5" stroke="#a52a2a" stroke-width="1.15"/>
<text x="430.5" y="59" text-anchor="end">n=1.0</text>
<line x1="437.4" x2="467.9" y1="55.1" y2="55.1" stroke="#ff0000" stroke-width="1.5"/>
<text x="430.5" y="76.2" text-anchor="end">n=1.5</text>
<line x1="437.4" x2="467.9" y1="72.3" y2="72.3" stroke="#0000ff" stroke-width="1.5"/>
<text x="430.5" y="92.8" text-anchor="end">c<tspan font-size="8.6" dy="2.7">s</tspan><tspan font-size="8.6" dy="-8.2">2</tspan><tspan dy="5.5">=1/3</tspan></text>
<line x1="437.4" x2="467.9" y1="88.9" y2="88.9" stroke="#ee82ee" stroke-width="1.2"/>
<text x="430.5" y="109.8" text-anchor="end">c<tspan font-size="8.6" dy="2.7">s</tspan><tspan font-size="8.6" dy="-8.2">2</tspan><tspan dy="5.5">=1</tspan></text>
<line x1="437.4" x2="467.9" y1="105.9" y2="105.9" stroke="#ffa500" stroke-width="1.3"/>
</g>
<g id="inset1">
<rect x="178" y="18" width="144.5" height="82.8" fill="#fff" stroke="none"/>
<rect x="178" y="18" width="144.5" height="82.8" fill="none" stroke="#000" stroke-width="1"/>
<path d="M178 100.8v3.8M178 100.8h-3.8M208.96 100.8v3.8M178 83.06h-3.8M239.93 100.8v3.8M178 65.31h-3.8M270.89 100.8v3.8M178 47.57h-3.8M301.86 100.8v3.8M178 29.83h-3.8" stroke="#000" stroke-width="0.7" fill="none"/>
<path d="M196.85 18.59h0M198.01 23.36h0M198.01 18.59h0M199.24 27.84h0M199.24 23.36h0M199.24 18.59h0M200.54 32.07h0M200.54 27.84h0M200.54 23.36h0M201.93 36.05h0M201.93 32.07h0M201.93 27.84h0M203.4 43.34h0M203.4 39.81h0M203.4 36.05h0M203.4 32.07h0M204.96 46.67h0M204.96 43.34h0M204.96 39.81h0M204.96 36.05h0M206.62 49.81h0M206.62 46.67h0M206.62 43.34h0M206.62 39.81h0M208.38 52.76h0M208.38 49.81h0M208.38 46.67h0M208.38 43.34h0M210.25 55.55h0M210.25 52.76h0M210.25 49.81h0M210.25 46.67h0M212.24 58.17h0M212.24 55.55h0M212.24 52.76h0M212.24 49.81h0M214.34 60.64h0M214.34 58.17h0M214.34 55.55h0M214.34 52.76h0M216.58 62.97h0M216.58 60.64h0M216.58 58.17h0M216.58 55.55h0M218.95 65.16h0M218.95 62.97h0M218.95 60.64h0M218.95 58.17h0M221.47 67.23h0M221.47 65.16h0M221.47 62.97h0M221.47 60.64h0M224.15 69.17h0M224.15 67.23h0M224.15 65.16h0M224.15 62.97h0M226.99 71h0M226.99 69.17h0M226.99 67.23h0M226.99 65.16h0M230 72.73h0M230 71h0M230 69.17h0M230 67.23h0M233.2 74.36h0M233.2 72.73h0M233.2 71h0M233.2 69.17h0M236.59 75.89h0M236.59 74.36h0M236.59 72.73h0M236.59 71h0M240.2 77.33h0M240.2 75.89h0M240.2 74.36h0M240.2 72.73h0M244.02 78.69h0M244.02 77.33h0M244.02 75.89h0M244.02 74.36h0M248.09 79.97h0M248.09 78.69h0M248.09 77.33h0M248.09 75.89h0M252.4 81.18h0M252.4 79.97h0M252.4 78.69h0M252.4 77.33h0M256.97 82.32h0M256.97 81.18h0M256.97 79.97h0M256.97 78.69h0M261.83 83.39h0M261.83 82.32h0M261.83 81.18h0M261.83 79.97h0M266.99 84.4h0M266.99 83.39h0M266.99 82.32h0M266.99 81.18h0M272.46 85.35h0M272.46 84.4h0M272.46 83.39h0M272.46 82.32h0M278.27 86.24h0M278.27 85.35h0M278.27 84.4h0M278.27 83.39h0M284.44 86.24h0M284.44 85.35h0M284.44 84.4h0M290.99 87.09h0M290.99 86.24h0M290.99 85.35h0M297.94 87.88h0M297.94 87.09h0M297.94 86.24h0M305.32 88.63h0M305.32 87.88h0M305.32 87.09h0M313.15 89.34h0M313.15 88.63h0M313.15 87.88h0M321.47 90h0M321.47 89.34h0M321.47 88.63h0" stroke="#ee82ee" stroke-width="1.9" stroke-linecap="square" fill="none"/>
<polyline points="217.6,18.2 221,19.6 223.6,22.2 226.4,27.3 228.8,34.5 232.8,41.7 239.3,48.1 245.7,52.2 250,55 258,61.4 262,64.6 266,66.6 270.5,67.6 274.1,68.9 278,72.3 282.1,76.7 290.2,85.5 294,88.4 298.2,91.1 301.5,93.2 303.8,95.4 305.3,98 305.9,100.6" fill="none" stroke="#000" stroke-width="0.55" stroke-linejoin="round"/>
<polyline points="178.2,45.2 180.5,45.4 183,46.1 185.5,47.6 187.9,49.75 192.7,56.2 199.1,63.5 207.1,71.2 215.2,79.1 223.2,86.3 226.5,88.8 228.8,91.1 230.6,93.6 231.7,96.3 232.3,98.6 232.5,100.6" fill="none" stroke="#000" stroke-width="0.55" stroke-linejoin="round"/>
<g font-family="Liberation Sans, sans-serif" font-size="13.33" letter-spacing="0.3" fill="#000">
<text x="172.7" y="105.3" text-anchor="end">0</text>
<text x="179.75" y="114.8" text-anchor="middle">0</text>
<text x="172.7" y="87.56" text-anchor="end">300</text>
<text x="210.71" y="114.8" text-anchor="middle">300</text>
<text x="172.7" y="69.81" text-anchor="end">600</text>
<text x="241.68" y="114.8" text-anchor="middle">600</text>
<text x="172.7" y="52.07" text-anchor="end">900</text>
<text x="272.64" y="114.8" text-anchor="middle">900</text>
<text x="172.7" y="34.33" text-anchor="end">1200</text>
<text x="303.61" y="114.8" text-anchor="middle">1200</text>
</g>
<g font-family="Liberation Sans, sans-serif" font-size="9.65" letter-spacing="0.15" fill="#000">
<text x="181.2" y="95.4">LIGO 50%</text>
<text x="255.6" y="51">LIGO 90%</text>
<text x="245.6" y="96.6">c<tspan font-size="7.6" dy="2.4">s</tspan><tspan font-size="7.6" dy="-7.4">2</tspan><tspan dy="5">=1/3</tspan></text>
</g>
</g>
<g id="inset2">
<rect x="332" y="122" width="138.5" height="81.75" fill="#fff" stroke="none"/>
<rect x="332" y="122" width="138.5" height="81.75" fill="none" stroke="#000" stroke-width="1"/>
<path d="M370.47 203.75v-3.8M332 181.04h3.8M408.94 203.75v-3.8M332 158.33h3.8M447.42 203.75v-3.8M332 135.62h3.8" stroke="#000" stroke-width="0.7" fill="none"/>
<path d="M429.05 125.42h0M433.49 128.85h0M433.49 125.42h0M438.12 132.12h0M438.12 128.85h0M438.12 125.42h0M442.98 135.25h0M442.98 132.12h0M442.98 128.85h0M442.98 125.42h0M448.05 138.25h0M448.05 135.25h0M448.05 132.12h0M448.05 128.85h0M448.05 125.42h0M453.35 141.11h0M453.35 138.25h0M453.35 135.25h0M453.35 132.12h0M453.35 128.85h0M453.35 125.42h0M458.9 143.85h0M458.9 141.11h0M458.9 138.25h0M458.9 135.25h0M458.9 132.12h0M458.9 128.85h0M464.7 146.47h0M464.7 143.85h0M464.7 141.11h0M464.7 138.25h0M464.7 135.25h0M464.7 132.12h0" stroke="#ff0000" stroke-width="1.7" stroke-linecap="round" fill="none"/>
<path d="M375.06 123.99h0M377.33 128.08h0M377.33 123.99h0M379.72 135.65h0M379.72 131.96h0M379.72 128.08h0M379.72 123.99h0M382.24 139.14h0M382.24 135.65h0M382.24 131.96h0M382.24 128.08h0M384.89 142.46h0M384.89 139.14h0M384.89 135.65h0M384.89 131.96h0M387.68 145.6h0M387.68 142.46h0M387.68 139.14h0M387.68 135.65h0M390.62 148.59h0M390.62 145.6h0M390.62 142.46h0M390.62 139.14h0M393.71 151.42h0M393.71 148.59h0M393.71 145.6h0M393.71 142.46h0M396.97 154.1h0M396.97 151.42h0M396.97 148.59h0M396.97 145.6h0M400.39 156.65h0M400.39 154.1h0M400.39 151.42h0M400.39 148.59h0M404 159.01h0M404 156.65h0M404 154.1h0M404 151.42h0M407.8 161.25h0M407.8 159.01h0M407.8 156.65h0M407.8 154.1h0M411.8 163.38h0M411.8 161.25h0M411.8 159.01h0M411.8 156.65h0M416.12 165.4h0M416.12 163.38h0M416.12 161.25h0M416.12 159.01h0M420.66 167.33h0M420.66 165.4h0M420.66 163.38h0M420.66 161.25h0M425.46 169.15h0M425.46 167.33h0M425.46 165.4h0M425.46 163.38h0M430.51 170.88h0M430.51 169.15h0M430.51 167.33h0M430.51 165.4h0M435.84 172.53h0M435.84 170.88h0M435.84 169.15h0M435.84 167.33h0M441.46 174.1h0M441.46 172.53h0M441.46 170.88h0M441.46 169.15h0M447.38 175.58h0M447.38 174.1h0M447.38 172.53h0M447.38 170.88h0M453.62 175.58h0M453.62 174.1h0M453.62 172.53h0M460.2 176.99h0M460.2 175.58h0M460.2 174.1h0M467.13 178.33h0M467.13 176.99h0M467.13 175.58h0" stroke="#a52a2a" stroke-width="2.1" stroke-linecap="round" fill="none"/>
<path d="M366.3 133.66h0.01M366.3 127.41h0.01M369.2 139.39h0.01M369.2 133.66h0.01M372.35 144.66h0.01M372.35 139.39h0.01M375.77 149.49h0.01M375.77 144.66h0.01M379.47 153.93h0.01M383.49 157.92h0.01M387.85 161.59h0.01M392.58 164.97h0.01M397.7 167.99h0.01M403.42 170.78h0.01M409.64 173.36h0.01M416.4 175.73h0.01M423.92 177.92h0.01M432.11 179.93h0.01M432.11 177.92h0.01M441.03 181.79h0.01M441.03 179.93h0.01M450.75 183.5h0.01M450.75 181.79h0.01M461.33 183.5h0.01" stroke="#ffa500" stroke-width="2.5" stroke-linecap="square" fill="none"/>
<path d="M353.9 130.62h0M353.9 123.86h0M355.85 136.8h0M355.85 130.62h0M357.99 142.47h0M357.99 136.8h0M360.31 147.65h0M362.84 152.4h0M365.59 160.6h0M365.59 156.68h0M368.59 164.2h0M368.59 160.6h0M371.86 167.5h0M371.86 164.2h0M375.42 170.52h0M375.42 167.5h0M379.3 173.29h0M379.3 170.52h0M383.6 175.83h0M383.6 173.29h0M388.29 178.12h0M388.29 175.83h0M393.42 180.22h0M393.42 178.12h0M399 182.15h0M399 180.22h0M405.1 183.92h0M405.1 182.15h0M411.75 183.92h0M419 185.55h0M427.04 187.04h0M435.83 188.41h0M445.42 189.67h0M445.42 188.41h0M455.9 190.82h0M455.9 189.67h0M467.35 190.82h0" stroke="#000000" stroke-width="2.4" stroke-linecap="round" fill="none"/>
<path d="M332.21 161.1h0M332.22 163.57h0M332.22 161.1h0M332.23 165.9h0M332.23 163.57h0M332.23 161.1h0M332.25 168.09h0M332.25 165.9h0M332.25 163.57h0M332.25 161.1h0M332.26 170.16h0M332.26 168.09h0M332.26 165.9h0M332.26 163.57h0M332.26 161.1h0M332.28 172.11h0M332.28 170.16h0M332.28 168.09h0M332.28 165.9h0M332.28 163.57h0M332.28 161.1h0M332.3 173.94h0M332.3 172.11h0M332.3 170.16h0M332.3 168.09h0M332.3 165.9h0M332.3 163.57h0M332.32 175.67h0M332.32 173.94h0M332.32 172.11h0M332.32 170.16h0M332.32 168.09h0M332.32 165.9h0M332.34 177.3h0M332.34 175.67h0M332.34 173.94h0M332.34 172.11h0M332.34 170.16h0M332.34 168.09h0M332.36 178.83h0M332.36 177.3h0M332.36 175.67h0M332.36 173.94h0M332.36 172.11h0M332.36 170.16h0M332.38 180.27h0M332.38 178.83h0M332.38 177.3h0M332.38 175.67h0M332.38 173.94h0M332.4 181.63h0M332.4 180.27h0M332.4 178.83h0M332.4 177.3h0M332.4 175.67h0M332.43 182.92h0M332.43 181.63h0M332.43 180.27h0M332.43 178.83h0M332.43 177.3h0M332.45 184.12h0M332.45 182.92h0M332.45 181.63h0M332.45 180.27h0M332.45 178.83h0M332.48 185.26h0M332.48 184.12h0M332.48 182.92h0M332.48 181.63h0M332.48 180.27h0M332.51 186.33h0M332.51 185.26h0M332.51 184.12h0M332.51 182.92h0M332.51 181.63h0M332.54 187.34h0M332.54 186.33h0M332.54 185.26h0M332.54 184.12h0M332.54 182.92h0M332.57 188.29h0M332.57 187.34h0M332.57 186.33h0M332.57 185.26h0M332.57 184.12h0M332.61 189.19h0M332.61 188.29h0M332.61 187.34h0M332.61 186.33h0M332.65 190.03h0M332.65 189.19h0M332.65 188.29h0M332.65 187.34h0M332.69 190.83h0M332.69 190.03h0M332.69 189.19h0M332.69 188.29h0M332.73 191.58h0M332.73 190.83h0M332.73 190.03h0M332.73 189.19h0M332.77 192.28h0M332.77 191.58h0M332.77 190.83h0M332.77 190.03h0M332.82 192.95h0M332.82 192.28h0M332.82 191.58h0M332.82 190.83h0M332.87 193.57h0M332.87 192.95h0M332.87 192.28h0M332.87 191.58h0M332.93 194.16h0M332.93 193.57h0M332.93 192.95h0M332.93 192.28h0M332.98 194.72h0M332.98 194.16h0M332.98 193.57h0M332.98 192.95h0M333.04 195.24h0M333.04 194.72h0M333.04 194.16h0M333.04 193.57h0M333.11 195.73h0M333.11 195.24h0M333.11 194.72h0M333.11 194.16h0M333.17 196.2h0M333.17 195.73h0M333.17 195.24h0M333.17 194.72h0M333.25 196.64h0M333.25 196.2h0M333.25 195.73h0M333.25 195.24h0M333.32 197.05h0M333.32 196.64h0M333.32 196.2h0M333.4 197.44h0M333.4 197.05h0M333.4 196.64h0M333.49 197.8h0M333.49 197.44h0M333.49 197.05h0M333.58 198.15h0M333.58 197.8h0M333.58 197.44h0M333.68 198.47h0M333.68 198.15h0M333.68 197.8h0M333.78 198.78h0M333.78 198.47h0M333.78 198.15h0M333.89 199.34h0M333.89 199.07h0M333.89 198.78h0M333.89 198.47h0M334.01 199.59h0M334.01 199.34h0M334.01 199.07h0M334.01 198.78h0M334.13 199.83h0M334.13 199.59h0M334.13 199.34h0M334.13 199.07h0M334.27 200.06h0M334.27 199.83h0M334.27 199.59h0M334.27 199.34h0M334.4 200.27h0M334.4 200.06h0M334.4 199.83h0M334.4 199.59h0M334.55 200.48h0M334.55 200.27h0M334.55 200.06h0M334.55 199.83h0M334.71 200.67h0M334.71 200.48h0M334.71 200.27h0M334.71 200.06h0M334.88 200.84h0M334.88 200.67h0M334.88 200.48h0M334.88 200.27h0M335.05 201.01h0M335.05 200.84h0M335.05 200.67h0M335.05 200.48h0M335.24 201.17h0M335.24 201.01h0M335.24 200.84h0M335.24 200.67h0M335.44 201.32h0M335.44 201.17h0M335.44 201.01h0M335.44 200.84h0M335.65 201.46h0M335.65 201.32h0M335.65 201.17h0M335.65 201.01h0M335.88 201.59h0M335.88 201.46h0M335.88 201.32h0M335.88 201.17h0M336.11 201.72h0M336.11 201.59h0M336.11 201.46h0M336.11 201.32h0M336.37 201.84h0M336.37 201.72h0M336.37 201.59h0M336.37 201.46h0M336.64 201.95h0M336.64 201.84h0M336.64 201.72h0M336.64 201.59h0M336.92 202.05h0M336.92 201.95h0M336.92 201.84h0M336.92 201.72h0M337.22 202.15h0M337.22 202.05h0M337.22 201.95h0M337.22 201.84h0M337.55 202.24h0M337.55 202.15h0M337.55 202.05h0M337.55 201.95h0M337.89 202.33h0M337.89 202.24h0M337.89 202.15h0M337.89 202.05h0M338.25 202.41h0M338.25 202.33h0M338.25 202.24h0M338.25 202.15h0M338.63 202.49h0M338.63 202.41h0M338.63 202.33h0M338.63 202.24h0M339.04 202.56h0M339.04 202.49h0M339.04 202.41h0M339.04 202.33h0M339.48 202.63h0M339.48 202.56h0M339.48 202.49h0M339.48 202.41h0M339.94 202.63h0M339.94 202.56h0M339.94 202.49h0M340.42 202.7h0M340.42 202.63h0M340.42 202.56h0M340.94 202.76h0M340.94 202.7h0M340.94 202.63h0M341.49 202.82h0M341.49 202.76h0M341.49 202.7h0M342.08 202.87h0M342.08 202.82h0M342.08 202.76h0M342.7 202.92h0M342.7 202.87h0M342.7 202.82h0M343.35 202.97h0M343.35 202.92h0M343.35 202.87h0M344.05 203.01h0M344.05 202.97h0M344.05 202.92h0M344.79 203.06h0M344.79 203.01h0M344.79 202.97h0M345.58 203.1h0M345.58 203.06h0M345.58 203.01h0M346.42 203.13h0M346.42 203.1h0M346.42 203.06h0M346.42 203.01h0M347.3 203.17h0M347.3 203.13h0M347.3 203.1h0M347.3 203.06h0M348.24 203.2h0M348.24 203.17h0M348.24 203.13h0M348.24 203.1h0M349.24 203.24h0M349.24 203.2h0M349.24 203.17h0M349.24 203.13h0M350.3 203.27h0M350.3 203.24h0M350.3 203.2h0M350.3 203.17h0" stroke="#de68de" stroke-width="1.8" stroke-linecap="round" fill="none"/>
<polyline points="332,194.21 333.15,195.57 334.69,196.94 335.69,197.39 336.77,198.75 338.16,199.75 338.93,200.03 339.69,200.62 340.46,201.57 341.23,202.71 341.45,203.75" fill="none" stroke="#000" stroke-width="0.55"/>
<g font-family="Liberation Sans, sans-serif" font-size="13.33" letter-spacing="0.3" fill="#000">
<text x="326.9" y="208.25" text-anchor="end">0</text>
<text x="326.9" y="185.54" text-anchor="end">5000</text>
<text x="326.9" y="162.83" text-anchor="end">10000</text>
<text x="326.9" y="140.12" text-anchor="end">15000</text>
<text x="372.22" y="217.75" text-anchor="middle">5000</text>
<text x="410.69" y="217.75" text-anchor="middle">10000</text>
<text x="449.17" y="217.75" text-anchor="middle">15000</text>
</g>
<text x="338.4" y="200.3" font-family="Liberation Sans, sans-serif" font-size="9.65" letter-spacing="0.15" fill="#000">LIGO 90%</text>
</g>
</svg>
</body>
</html>
